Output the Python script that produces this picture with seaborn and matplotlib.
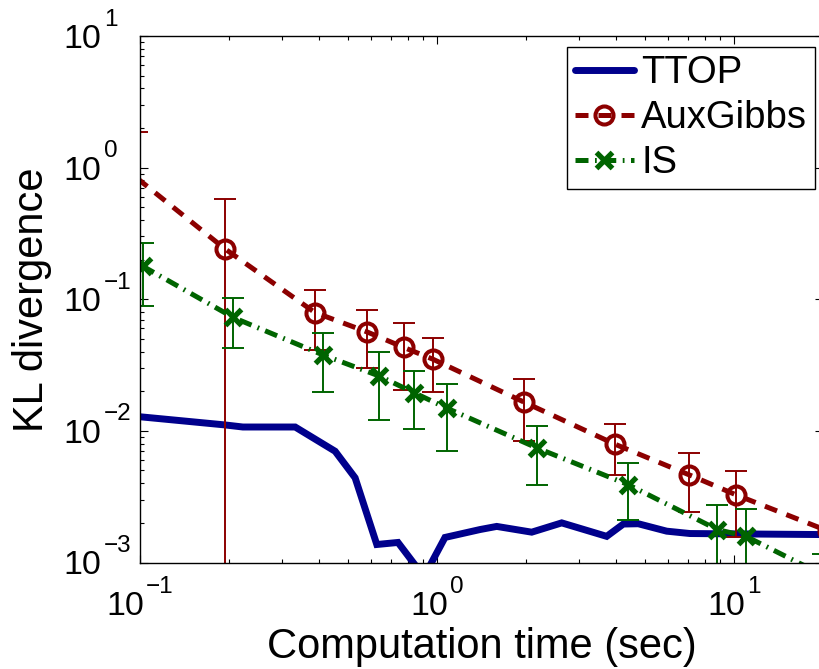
import numpy as np
import pandas as pd
import seaborn as sns
import matplotlib
matplotlib.use("Agg")
import matplotlib.pyplot as plt
from matplotlib.lines import Line2D
from matplotlib.ticker import LogLocator, NullFormatter
from matplotlib.transforms import blended_transform_factory, ScaledTranslation

# ---------------- data ----------------
series_labels = ["TTOP", "AuxGibbs", "IS"]
x_label = "Computation time (sec)"
y_label = "KL divergence"

ttop_time = [0.1, 0.193, 0.222, 0.333, 0.454, 0.530, 0.627, 0.739, 0.904, 1.064,
             1.396, 1.589, 2.084, 2.63, 3.727, 4.24, 4.76, 5.935, 7.11, 20.0]
ttop_kl = [0.0128, 0.0111, 0.0107, 0.0107, 0.0070, 0.0044, 0.00137, 0.00142, 0.00078, 0.00155,
           0.00178, 0.00188, 0.00170, 0.00200, 0.00158, 0.00196, 0.00197, 0.00173, 0.00166, 0.00163]

aux_time = [0.0978, 0.193, 0.388, 0.580, 0.774, 0.967, 1.968, 3.975, 7.055, 10.15, 20.8]
aux_kl = [0.83, 0.242, 0.0793, 0.0566, 0.0430, 0.0351, 0.0165, 0.00792, 0.00464, 0.00327, 0.00173]
aux_err = [1.05, 0.34, 0.038, 0.0267, 0.0227, 0.0155, 0.0081, 0.0033, 0.0022, 0.0017, np.nan]

is_time = [0.102, 0.206, 0.414, 0.639, 0.837, 1.078, 2.176, 4.407, 8.787, 10.97, 20.0]
is_kl = [0.1786, 0.0727, 0.0377, 0.0261, 0.0195, 0.0149, 0.0074, 0.0039, 0.00178, 0.00158, 0.0008]
is_err = [0.09, 0.030, 0.018, 0.0139, 0.0092, 0.0079, 0.0035, 0.0018, 0.00094, 0.00097, 0.00036]

x_major = [0.1, 1, 10]
x_exps = ["\u22121", "0", "1"]
y_major = [1e-3, 1e-2, 1e-1, 1, 10]
y_exps = ["\u22123", "\u22122", "\u22121", "0", "1"]
x_limits = (0.1, 20.0)
y_limits = (1e-3, 10.0)

# ---------------- style ----------------
BLUE = "#00008C"
RED = "#8C0000"
GREEN = "#006400"

sns.set_theme(style="white")
plt.rcParams["font.family"] = ["Liberation Sans", "DejaVu Sans"]

W, H = 820, 669
fig = plt.figure(figsize=(W / 100, H / 100), dpi=100, facecolor="white")
ax_l, ax_r, ax_t, ax_b = 140.0, 823.4, 36.0, 562.5
ax = fig.add_axes([ax_l / W, 1 - ax_b / H, (ax_r - ax_l) / W, (ax_b - ax_t) / H])
ax.set_xscale("log")
ax.set_yscale("log")
ax.set_xlim(*x_limits)
ax.set_ylim(*y_limits)

dash_aux = (0, (2.6, 2.0))
dash_is = (0, (2.6, 1.3, 0.35, 1.3))
CAP = 8.0
X_MS = 11.5

# TTOP
sns.lineplot(x=ttop_time, y=ttop_kl, ax=ax, color=BLUE, linewidth=5.0, sort=False,
             estimator=None)
ax.lines[-1].set_solid_joinstyle("miter")

# AuxGibbs
a_t = np.array(aux_time); a_k = np.array(aux_kl); a_e = np.array(aux_err)
m = ~np.isnan(a_e)
ax.errorbar(a_t[m], a_k[m], yerr=[np.minimum(a_e[m], a_k[m] - 1e-6), a_e[m]], fmt="none",
            ecolor=RED, elinewidth=1.4, capsize=CAP, capthick=1.4)
sns.lineplot(x=aux_time, y=aux_kl, ax=ax, color=RED, linewidth=3.6, sort=False,
             estimator=None)
ln = ax.lines[-1]
ln.set_linestyle(dash_aux)
ln.set_marker("o"); ln.set_markersize(13); ln.set_markerfacecolor("none")
ln.set_markeredgecolor(RED); ln.set_markeredgewidth(2.9)
ln.set_markevery(slice(1, None))

# IS
i_t = np.array(is_time); i_k = np.array(is_kl); i_e = np.array(is_err)
ax.errorbar(i_t, i_k, yerr=[np.minimum(i_e, i_k - 1e-6), i_e], fmt="none",
            ecolor=GREEN, elinewidth=1.4, capsize=CAP, capthick=1.4)
sns.lineplot(x=is_time, y=is_kl, ax=ax, color=GREEN, linewidth=3.6, sort=False,
             estimator=None)
ln = ax.lines[-1]
ln.set_linestyle(dash_is)
ln.set_marker("x"); ln.set_markersize(X_MS); ln.set_markeredgecolor(GREEN)
ln.set_markeredgewidth(3.8)

# ---------------- axes styling ----------------
for s in ax.spines.values():
    s.set_color("black")
    s.set_linewidth(1.0)
    s.set_visible(True)
ax.set_xticks(x_major)
ax.set_yticks(y_major)
ax.xaxis.set_minor_locator(LogLocator(base=10, subs=np.arange(2, 10), numticks=100))
ax.yaxis.set_minor_locator(LogLocator(base=10, subs=np.arange(2, 10), numticks=100))
ax.xaxis.set_minor_formatter(NullFormatter())
ax.yaxis.set_minor_formatter(NullFormatter())
ax.tick_params(which="both", direction="in", top=True, right=True, bottom=True, left=True,
               labelbottom=False, labelleft=False, color="black", width=0.8)
ax.tick_params(which="major", length=5.5)
ax.tick_params(which="minor", length=3.0)
ax.grid(False)

# ---------------- tick labels (MATLAB style 10 + exponent) ----------------
BASE, SUP = 24.5, 17.5
renderer = fig.canvas.get_renderer()


def text_width(s, size):
    t = fig.text(0, 0, s, fontsize=size)
    w = t.get_window_extent(renderer).width
    t.remove()
    return w


def px(dx, dy):
    return ScaledTranslation(dx / fig.dpi, dy / fig.dpi, fig.dpi_scale_trans)


xtrans = blended_transform_factory(ax.transData, ax.transAxes)
gap = 2.0
for v, e in zip(x_major, x_exps):
    w10 = text_width("10", BASE)
    we = text_width(e, SUP)
    left = -(w10 + gap + we) / 2
    ax.text(v, 0, "10", fontsize=BASE, color="black", ha="left", va="baseline",
            transform=xtrans + px(left, -52.5))
    ax.text(v, 0, e, fontsize=SUP, color="black", ha="left", va="baseline",
            transform=xtrans + px(left + w10 + gap, -30.5))

ytrans = blended_transform_factory(ax.transAxes, ax.transData)
for v, e in zip(y_major, y_exps):
    ax.text(0, v, "10", fontsize=BASE, color="black", ha="right", va="baseline",
            transform=ytrans + px(-39, -12))
    ax.text(0, v, e, fontsize=SUP, color="black", ha="left", va="baseline",
            transform=ytrans + px(-36, 10.5))

# ---------------- axis labels ----------------
ax.set_xlabel(x_label, fontsize=30, color="black", va="baseline")
ax.xaxis.set_label_coords(0.5, -(658 - ax_b) / (ax_b - ax_t))
ax.set_ylabel(y_label, fontsize=30, color="black", va="baseline")
ax.yaxis.set_label_coords((43.3 - ax_l) / (ax_r - ax_l), 0.5)

# ---------------- legend ----------------
handles = [
    Line2D([], [], color=BLUE, linewidth=5.0),
    Line2D([], [], color=RED, linewidth=3.6, linestyle=dash_aux, marker="o", markersize=13,
           markerfacecolor="none", markeredgecolor=RED, markeredgewidth=2.9),
    Line2D([], [], color=GREEN, linewidth=3.6, linestyle=dash_is, marker="x", markersize=X_MS,
           markeredgecolor=GREEN, markeredgewidth=3.8),
]
leg = ax.legend(handles, series_labels, loc="upper right",
                bbox_to_anchor=(815 / W, 1 - 47.3 / H), bbox_transform=fig.transFigure,
                borderaxespad=0, fontsize=27.5, frameon=True, fancybox=False,
                edgecolor="black", framealpha=1, handlelength=1.55, handletextpad=0.2,
                labelspacing=0.24, borderpad=0.2)
leg.get_frame().set_linewidth(1.0)
for t in leg.get_texts():
    t.set_color("black")

fig.savefig("out.png", dpi=100, facecolor="white")
